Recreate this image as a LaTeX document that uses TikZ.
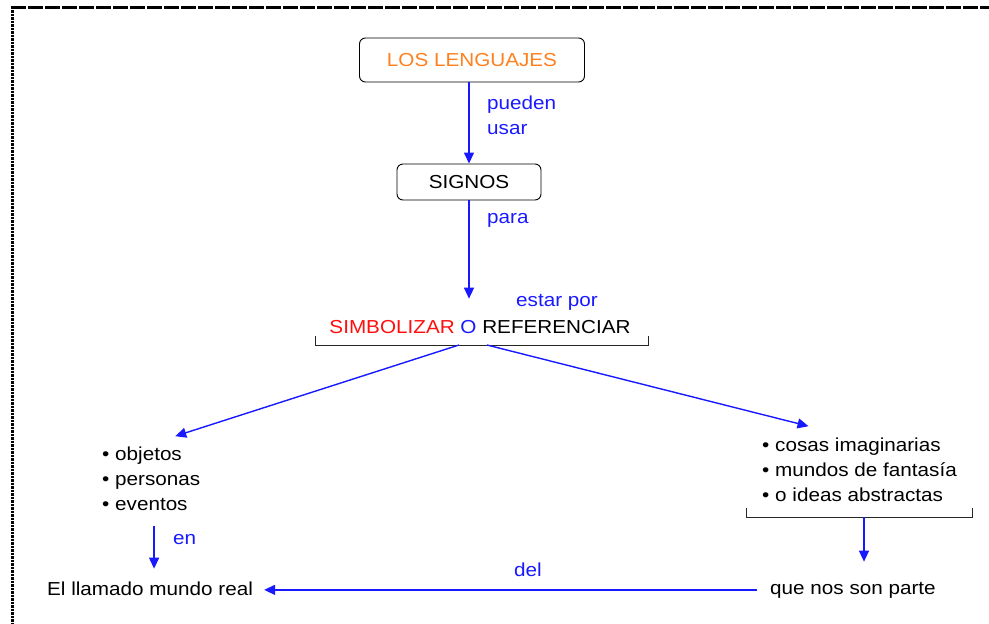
\documentclass[tikz,border=0pt]{standalone}
\usepackage{fontspec}
\setmainfont{Liberation Sans}[FakeStretch=1.1]
\usetikzlibrary{arrows.meta, positioning}

\definecolor{linkblue}{RGB}{25,25,255}
\definecolor{titleorange}{RGB}{255,128,30}
\definecolor{simbred}{RGB}{255,15,15}

\begin{document}
\begin{tikzpicture}[
    x=1pt, y=-1pt,
    >={Triangle[length=11pt, width=10pt]},
    font=\fontsize{18.8}{25}\selectfont,
    box/.style={draw, rounded corners=6pt, line width=0.9pt, align=center},
    word/.style={inner sep=0pt, align=left, anchor=base west},
    link/.style={word, text=linkblue},
    arrow/.style={->, draw=linkblue, line width=1.4pt},
    brace/.style={draw=black!85, line width=1pt},
  ]
  \useasboundingbox (0,0) rectangle (989,624);

  % --- Page frame ---
  \draw[line width=2.2pt, dash pattern=on 15pt off 2pt] (11,7.5) -- (989,7.5);
  \draw[line width=3pt, dash pattern=on 2.5pt off 1pt] (12.5,6.5) -- (12.5,624);

  % --- Top boxes ---
  \node[box, text=titleorange, minimum width=225pt, minimum height=44pt] (lenguajes) at (472,60) {LOS LENGUAJES};
  \node[box, minimum width=144pt, minimum height=36pt] (signos) at (469,182) {SIGNOS};
  \node[link] (pueden) at (487,134) {pueden\\usar};
  \node[link] (para) at (487,223) {para};

  % --- Middle ---
  \node[inner sep=0pt, anchor=base] (simb) at (480,333)
    {\textcolor{simbred}{SIMBOLIZAR} \textcolor{linkblue}{O} REFERENCIAR};
  \node[link] (estar) at (516,306) {estar por};
  \coordinate (simbl) at (315,345);
  \coordinate (simbr) at (648,345);
  \coordinate (lsrc) at (459,345);
  \coordinate (rsrc) at (487,345);
  \draw[brace] ([yshift=9pt]simbl) -- (simbl) -- (simbr) -- ([yshift=9pt]simbr);

  % --- Left branch ---
  \node[word] (objetos) at (102,510) {\textbullet\ objetos\\\textbullet\ personas\\\textbullet\ eventos};
  \node[link] (en) at (173,544) {en};
  \node[word] (real) at (47,595) {El llamado mundo real};

  % --- Right branch ---
  \node[word] (ideas) at (762,501) {\textbullet\ cosas imaginarias\\\textbullet\ mundos de fantasía\\\textbullet\ o ideas abstractas};
  \coordinate (ideasl) at (746,517);
  \coordinate (ideasr) at (972,517);
  \coordinate (ideasm) at (864,517);
  \draw[brace] ([yshift=9pt]ideasl) -- (ideasl) -- (ideasr) -- ([yshift=9pt]ideasr);
  \node[word] (parte) at (770,594) {que nos son parte};
  \node[link, anchor=base] (del) at (528,576) {del};

  % --- Arrows ---
  \draw[arrow] (lenguajes.south -| signos.north) -- (signos.north);
  \draw[arrow, shorten >=21pt] (signos.south) -- (signos.south |- simb.north);
  \draw[arrow] (lsrc) -- ([xshift=24pt, yshift=10pt]objetos.north);
  \draw[arrow] (rsrc) -- ([xshift=-51pt, yshift=11pt]ideas.north);
  \draw[arrow, shorten <=16pt, shorten >=12.5pt] ([xshift=4pt]real.north |- objetos.south) -- ([xshift=4pt]real.north);
  \draw[arrow, shorten >=20pt] (ideasm) -- (ideasm |- parte.north);
  \draw[arrow, shorten <=13pt, shorten >=11pt] (parte.west) -- (parte.west -| real.east);

\end{tikzpicture}
\end{document}
